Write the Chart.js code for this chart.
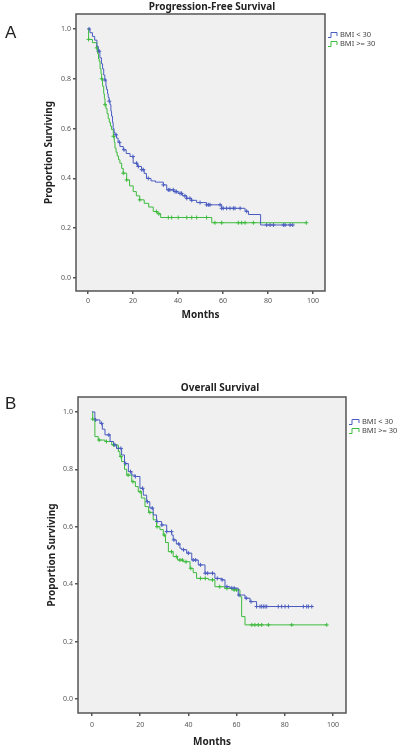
<!DOCTYPE html>
<html>
<head>
<meta charset="utf-8">
<script src="https://cdn.jsdelivr.net/npm/chart.js@4.4.1/dist/chart.umd.min.js"></script>
<style>
  body { margin: 0; background: #fff; }
  #wrap { position: relative; width: 401px; height: 750px; }
  canvas { position: absolute; left: 0; }
  .panel { position: absolute; left: 5px; font: 17px "Liberation Sans", Arial, sans-serif; color: #222; }
</style>
</head>
<body>
<div id="wrap">
  <canvas id="pfsChart" width="401" height="325" style="top:0"></canvas>
  <canvas id="osChart" width="401" height="370" style="top:380px"></canvas>
  <div class="panel" style="top:23px">A</div>
  <div class="panel" style="top:394px">B</div>
</div>
<script>
const xTicks = [0, 20, 40, 60, 80, 100];
const yTicks = [0, 0.2, 0.4, 0.6, 0.8, 1.0];
const groupLabels = ['BMI < 30', 'BMI >= 30'];
const groupColors = ['#4a5cc0', '#3dbb3d'];

// Progression-free survival, BMI < 30
const pfsLowT = [0, 0.9, 2, 3, 4, 4.6, 5.3, 6, 6.5, 7, 7.5, 8, 8.3, 8.7, 9, 9.4, 9.8, 10.2, 10.5, 10.9, 11.2, 11.6, 12, 12.7, 13.4, 14.2, 15.7, 17, 18.7, 20.1, 22, 23.8, 25, 26, 28, 30, 33.5, 35, 38, 40, 42, 43.9, 46, 48.3, 52.7, 59.4, 69.8, 71.3, 76.7, 91];
const pfsLowS = [1, 0.985, 0.97, 0.955, 0.93, 0.911, 0.884, 0.86, 0.84, 0.815, 0.795, 0.77, 0.757, 0.74, 0.725, 0.71, 0.696, 0.67, 0.65, 0.625, 0.6, 0.585, 0.575, 0.562, 0.545, 0.528, 0.515, 0.5, 0.488, 0.461, 0.448, 0.435, 0.42, 0.4, 0.39, 0.385, 0.374, 0.354, 0.347, 0.34, 0.33, 0.32, 0.312, 0.303, 0.294, 0.28, 0.268, 0.255, 0.213, 0.213];
const pfsLowCens = [0.5, 4.6, 5, 7.6, 9.5, 12.5, 14, 16, 20, 21.6, 22.4, 23.9, 24.6, 26.8, 33.5, 35.7, 36.4, 37.9, 38.7, 39.4, 40.9, 41.6, 43.1, 43.9, 45.3, 46.1, 49.8, 52.7, 53.5, 54.2, 58.7, 59.4, 60.1, 61.6, 63.1, 64.6, 65.3, 67.6, 70.5, 79.4, 80.9, 82.4, 86.8, 87.6, 89.8, 91];

// Progression-free survival, BMI >= 30
const pfsHighT = [0, 0.3, 2, 3.9, 4.3, 4.7, 5, 5.4, 5.8, 6.1, 6.5, 7, 7.3, 7.6, 8, 8.5, 9, 9.5, 10, 10.5, 11.3, 11.7, 12, 12.5, 13, 13.6, 14.2, 15, 15.7, 17.2, 18.5, 20.1, 21.5, 23, 25, 27, 29, 31, 32.3, 55, 97];
const pfsHighS = [1, 0.958, 0.945, 0.924, 0.9, 0.88, 0.87, 0.84, 0.82, 0.8, 0.77, 0.74, 0.72, 0.696, 0.68, 0.66, 0.64, 0.625, 0.61, 0.596, 0.569, 0.545, 0.522, 0.505, 0.49, 0.475, 0.461, 0.44, 0.421, 0.394, 0.37, 0.347, 0.33, 0.314, 0.3, 0.285, 0.267, 0.258, 0.243, 0.222, 0.222];
const pfsHighCens = [0.3, 3.9, 6.1, 7.6, 11.3, 15.7, 17.2, 23, 30.4, 31.5, 35.7, 37.2, 40.1, 43.9, 46.1, 48.3, 52.7, 56.4, 59.4, 66.8, 68.3, 69.8, 73.5, 97];

// Overall survival, BMI < 30
const osLowT = [0, 1.2, 3.3, 4.3, 5.4, 7.5, 9, 10.2, 12.3, 13.5, 15.1, 16.5, 17.8, 19.9, 21.3, 22.7, 24, 25.4, 26.8, 28.9, 31, 33.1, 33.7, 35, 36.5, 37.2, 39.3, 41.4, 44.1, 46.9, 51, 53.8, 55.2, 57.3, 60.7, 63.5, 65.6, 68.3, 91.2];
const osLowS = [1, 0.972, 0.96, 0.94, 0.92, 0.897, 0.885, 0.873, 0.85, 0.82, 0.792, 0.78, 0.775, 0.734, 0.71, 0.687, 0.665, 0.641, 0.618, 0.606, 0.583, 0.571, 0.554, 0.54, 0.525, 0.52, 0.508, 0.484, 0.467, 0.438, 0.42, 0.415, 0.391, 0.386, 0.362, 0.351, 0.339, 0.322, 0.322];
const osLowCens = [1.5, 4, 7, 9.5, 11, 12, 14, 16, 18, 21, 23, 25, 27, 29, 31, 33, 34, 36, 38, 40, 42, 43, 45, 47, 48, 50, 52, 54, 56, 58, 59, 61, 64, 66, 68.3, 69.7, 70.4, 71.1, 71.8, 72.5, 77.3, 78.7, 80.1, 81.5, 87.7, 89.1, 89.8, 91.2];

// Overall survival, BMI >= 30
const osHighT = [0, 0.3, 1.2, 2.6, 5.4, 8.2, 10.9, 11.6, 12.3, 13.5, 14.4, 16.5, 18, 19.2, 20.5, 22, 23.5, 25.4, 26.8, 28.2, 29.6, 30.5, 31.7, 33.7, 35.5, 37.9, 40.7, 42, 43.4, 48.3, 51, 55, 58, 61.4, 62.1, 63.5, 97.4];
const osHighS = [1, 0.975, 0.914, 0.902, 0.897, 0.885, 0.862, 0.845, 0.827, 0.8, 0.78, 0.757, 0.74, 0.722, 0.7, 0.67, 0.65, 0.624, 0.6, 0.59, 0.571, 0.545, 0.513, 0.496, 0.484, 0.478, 0.455, 0.44, 0.42, 0.415, 0.391, 0.385, 0.38, 0.356, 0.287, 0.258, 0.258];
const osHighCens = [0.3, 3, 6, 9, 12, 15, 17, 20, 24, 27, 30, 33, 35, 36.5, 37.5, 39, 41, 45, 47, 50, 53, 56, 59, 60, 66.3, 67.6, 69, 70.4, 73.2, 82.9, 97.4];

// value of the step curve at time t (right-continuous)
function survivalAt(times, surv, t) {
  let s = surv[0];
  for (let i = 0; i < times.length; i++) {
    if (times[i] <= t) s = surv[i];
  }
  return s;
}

// grey plot panel, frame and the SPSS-like legend
const kmPanel = {
  id: 'kmPanel',
  beforeDraw(chart) {
    const a = chart.chartArea, ctx = chart.ctx;
    ctx.save();
    ctx.fillStyle = '#f0f0f0';
    ctx.fillRect(a.left, a.top, a.right - a.left, a.bottom - a.top);
    ctx.restore();
  },
  afterDraw(chart, args, opts) {
    const a = chart.chartArea, ctx = chart.ctx;
    ctx.save();
    ctx.strokeStyle = '#555';
    ctx.lineWidth = 1.5;
    ctx.strokeRect(a.left, a.top, a.right - a.left, a.bottom - a.top);

    ctx.font = '7.5px "Noto Sans"';
    ctx.textBaseline = 'middle';
    ctx.lineWidth = 1;
    chart.data.datasets.filter(d => d.showLine).forEach((d, i) => {
      const y = opts.y + i * 9, x = opts.x;
      ctx.strokeStyle = d.borderColor;
      ctx.beginPath();
      ctx.moveTo(x, y + 2.5);
      ctx.lineTo(x + 3, y + 2.5);
      ctx.lineTo(x + 3, y - 2.5);
      ctx.lineTo(x + opts.w, y - 2.5);
      ctx.lineTo(x + opts.w, y + 1);
      ctx.stroke();
      ctx.fillStyle = '#444';
      ctx.fillText(d.label, opts.textX, y);
    });
    ctx.restore();
  }
};

function buildChart(id, cfg) {
  const groups = cfg.groups;
  const datasets = [];
  groups.forEach((g, i) => {
    datasets.push({
      label: groupLabels[i],
      data: g.t.map((t, k) => ({x: t, y: g.s[k]})),
      showLine: true,
      stepped: 'before',
      borderColor: groupColors[i],
      borderWidth: 1,
      pointRadius: 0,
      fill: false
    });
  });
  groups.forEach((g, i) => {
    datasets.push({
      label: groupLabels[i] + ' censored',
      data: g.c.map(t => ({x: t, y: survivalAt(g.t, g.s, t)})),
      showLine: false,
      pointStyle: 'cross',
      pointRadius: 2,
      borderWidth: 1,
      borderColor: groupColors[i],
      backgroundColor: groupColors[i]
    });
  });

  const tickFont = {family: 'Noto Sans', size: 7};
  const boldFont = {family: 'Noto Sans', size: 10, weight: 'bold'};

  return new Chart(document.getElementById(id), {
    type: 'scatter',
    data: {datasets},
    plugins: [kmPanel],
    options: {
      responsive: false,
      animation: false,
      events: [],
      layout: {padding: {left: cfg.padLeft, right: 0, top: 0, bottom: 0}},
      plugins: {
        legend: {display: false},
        tooltip: {enabled: false},
        title: {
          display: true,
          text: cfg.title,
          color: '#222',
          font: boldFont,
          padding: cfg.titlePad
        },
        kmPanel: cfg.legend
      },
      scales: {
        x: {
          type: 'linear',
          min: cfg.xMin,
          max: cfg.xMax,
          afterBuildTicks: s => { s.ticks = xTicks.map(v => ({value: v})); },
          afterFit: s => { s.height = cfg.xAxisH; },
          ticks: {font: tickFont, color: '#555', padding: cfg.xTickPad, maxRotation: 0, callback: v => String(v)},
          grid: {drawOnChartArea: false, drawTicks: true, tickLength: 3, color: '#555', lineWidth: 1.5},
          border: {display: false},
          title: {display: true, text: 'Months', color: '#222', font: boldFont, padding: {top: 2, bottom: cfg.xTitleBottom}}
        },
        y: {
          type: 'linear',
          min: cfg.yMin,
          max: cfg.yMax,
          afterBuildTicks: s => { s.ticks = yTicks.map(v => ({value: v})); },
          afterFit: s => { s.width = cfg.yAxisW; },
          ticks: {font: tickFont, color: '#555', padding: 2, callback: v => v.toFixed(1)},
          grid: {drawOnChartArea: false, drawTicks: true, tickLength: 3, color: '#555', lineWidth: 1.5},
          border: {display: false},
          title: {display: true, text: 'Proportion Surviving', color: '#222', font: boldFont, padding: {top: cfg.yTitleTop, bottom: 2}}
        },
        legendSpace: {
          type: 'linear',
          position: 'right',
          display: true,
          afterFit: s => { s.width = cfg.rightW; },
          ticks: {display: false},
          grid: {display: false},
          border: {display: false}
        }
      }
    }
  });
}

buildChart('pfsChart', {
  title: 'Progression-Free Survival',
  groups: [
    {t: pfsLowT, s: pfsLowS, c: pfsLowCens},
    {t: pfsHighT, s: pfsHighS, c: pfsHighCens}
  ],
  padLeft: 23, rightW: 76, yAxisW: 53, xAxisH: 34,
  titlePad: {top: 1, bottom: 1},
  xMin: -5.3, xMax: 105.3, yMin: -0.052, yMax: 1.06,
  xTickPad: 3, xTitleBottom: 4, yTitleTop: 20,
  legend: {x: 328, w: 9, textX: 340, y: 35}
});

buildChart('osChart', {
  title: 'Overall Survival',
  groups: [
    {t: osLowT, s: osLowS, c: osLowCens},
    {t: osHighT, s: osHighS, c: osHighCens}
  ],
  padLeft: 39, rightW: 55, yAxisW: 39, xAxisH: 37,
  titlePad: {top: 2, bottom: 3},
  xMin: -5.8, xMax: 105.4, yMin: -0.049, yMax: 1.052,
  xTickPad: 5, xTitleBottom: 2, yTitleTop: 7,
  legend: {x: 349, w: 10, textX: 362, y: 42}
});
</script>
</body>
</html>
